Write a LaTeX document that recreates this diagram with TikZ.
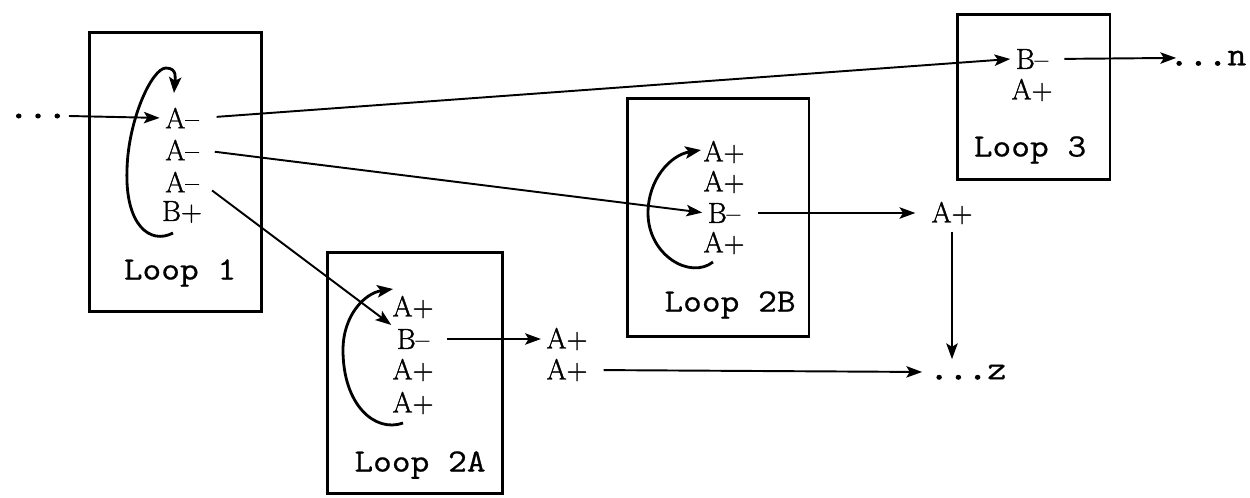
\documentclass[tikz,border=0pt]{standalone}
\usepackage{fontspec}
\newfontfamily\loopfont[FakeStretch=1.12,FakeBold=0.6]{Latin Modern Mono}
\newfontfamily\dotfont[FakeStretch=1.12,FakeBold=3.5]{Latin Modern Mono}
\newfontfamily\lblfont[FakeBold=1.2]{Latin Modern Roman}
\usetikzlibrary{arrows.meta}
\begin{document}
\begin{tikzpicture}[x=0.02cm,y=-0.02cm,
 loopbox/.style={draw, line width=1.7pt, inner sep=0pt},
 lbl/.style={font=\lblfont\fontsize{16.5}{18}\selectfont, inner sep=1pt},
 looplbl/.style={font=\loopfont\fontsize{18.5}{21}\selectfont, inner sep=1pt},
 dotlbl/.style={font=\loopfont\fontsize{19}{21}\selectfont, inner sep=1pt},
 conn/.style={line width=1.1pt, -{Stealth[length=9pt,width=6.5pt,inset=2pt]}},
 selfloop/.style={line width=1.6pt, -{Stealth[length=9pt,width=7pt,inset=2pt]}}]
\useasboundingbox (0,0) rectangle (1250,497);
% boxes
\node[loopbox, minimum width=3.46cm, minimum height=5.6cm] (L1) at (175.5,172) {};
\node[loopbox, minimum width=3.52cm, minimum height=4.84cm] (L2A) at (415,373) {};
\node[loopbox, minimum width=3.64cm, minimum height=4.78cm] (L2B) at (718,217.5) {};
\node[loopbox, minimum width=3.06cm, minimum height=3.32cm] (L3) at (1033.5,97) {};
% loop names
\node[looplbl] (n1) at (180,273) {Loop 1};
\node[looplbl] (n2a) at (420,465) {Loop 2A};
\node[looplbl] (n2b) at (730,305) {Loop 2B};
\node[looplbl] (n3) at (1030,150) {Loop 3};
% loop 1 labels
\node[lbl] (a11) at (182,118) {A\textendash};
\node[lbl] (a12) at (182,150) {A\textendash};
\node[lbl] (a13) at (182,182) {A\textendash};
\node[lbl] (b14) at (182,212) {B+};
% loop 2A labels
\node[lbl] (a21) at (413,307) {A+};
\node[lbl] (b22) at (413,339) {B\textendash};
\node[lbl] (a23) at (413,370) {A+};
\node[lbl] (a24) at (413,403) {A+};
\node[lbl] (o21) at (567,339) {A+};
\node[lbl] (o22) at (567,370) {A+};
% loop 2B labels
\node[lbl] (a31) at (724,152) {A+};
\node[lbl] (a32) at (724,182) {A+};
\node[lbl] (b33) at (724,213) {B\textendash};
\node[lbl] (a34) at (724,243) {A+};
\node[lbl] (o23) at (952,213) {A+};
% loop 3 labels
\node[lbl] (b41) at (1032,59) {B\textendash};
\node[lbl] (a42) at (1032,90) {A+};
% ends
\node[dotlbl] (din) at (38,116) {\dotfont...};
\node[dotlbl] (dz) at (968,372) {{\dotfont...}z};
\node[dotlbl] (dn) at (1208,58) {{\dotfont...}n};
% connectors
\draw[conn, shorten >=2pt] (din.east) -- (a11.west);
\draw[conn, shorten <=9pt] (a11.east) -- ([xshift=-2pt]b41.west);
\draw[conn, shorten <=8pt, shorten >=2pt] (a12.east) -- (b33.west);
\draw[conn, shorten <=8pt] (a13.east) -- ([xshift=-2pt,yshift=8pt]b22.west);
\draw[conn, shorten <=9pt, shorten >=2pt] (b22.east) -- (o21.west);
\draw[conn, shorten <=8pt, shorten >=3pt] (o22.east) -- (dz.west);
\draw[conn, shorten <=9pt, shorten >=8pt] (b33.east) -- (o23.west);
\draw[conn, shorten <=3pt, shorten >=2pt] (o23.south) -- (o23.south |- dz.north);
\draw[conn, shorten <=8pt, shorten >=-5pt] (b41.east) -- (dn.west);
% self loops
\draw[selfloop] (173,233) .. controls (150,245) and (125,225) .. (127,170)
  .. controls (128,120) and (152,68) .. (166,68)
  .. controls (178,68) and (175,80) .. (174,93);
\draw[selfloop] (403,423) .. controls (375,433) and (343,405) .. (343,350)
  .. controls (343,315) and (365,293) .. (393,289);
\draw[selfloop] (713,262) .. controls (690,280) and (648,255) .. (648,213)
  .. controls (648,180) and (670,155) .. (701,150);
\end{tikzpicture}
\end{document}
